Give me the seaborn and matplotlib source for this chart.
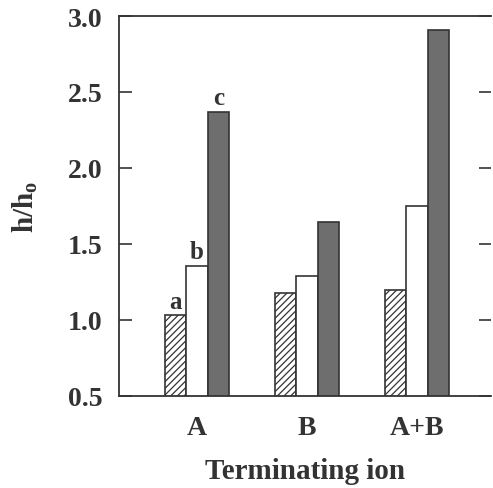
import matplotlib
matplotlib.use("Agg")
import matplotlib.pyplot as plt
import seaborn as sns
import pandas as pd

categories = ["A", "B", "A+B"]
series = ["a", "b", "c"]
values_a = [1.03, 1.18, 1.20]
values_b = [1.355, 1.29, 1.75]
values_c = [2.37, 1.645, 2.91]
yticks = [0.5, 1.0, 1.5, 2.0, 2.5, 3.0]

df = pd.DataFrame({
    "cat": categories * 3,
    "series": ["a"] * 3 + ["b"] * 3 + ["c"] * 3,
    "val": values_a + values_b + values_c,
})

sns.set_style("ticks")
plt.rcParams["font.family"] = ["Liberation Serif", "DejaVu Serif"]
plt.rcParams["font.weight"] = "bold"
plt.rcParams["mathtext.fontset"] = "custom"
plt.rcParams["mathtext.rm"] = "Liberation Serif:bold"
plt.rcParams["mathtext.it"] = "Liberation Serif:bold"
plt.rcParams["mathtext.bf"] = "Liberation Serif:bold"
plt.rcParams["hatch.linewidth"] = 0.9

fig = plt.figure(figsize=(4.93, 4.89), dpi=100)
ax = fig.add_axes([119 / 493, 92 / 489, 372 / 493, 380 / 489])

palette = {"a": "white", "b": "white", "c": "#6e6e6e"}
sns.barplot(data=df, x="cat", y="val", hue="series", order=categories,
            hue_order=series, palette=palette, width=0.59, ax=ax,
            edgecolor="#333333", linewidth=1.2, legend=False, saturation=1,
            errorbar=None)

for cont, name in zip(ax.containers, series):
    if name == "a":
        for bar in cont:
            bar.set_hatch("/////")
    ax.bar_label(cont, labels=[name, "", ""], padding=2, fontsize=18,
                 fontweight="bold", color="#333333")

ax.set_ylim(0.5, 3.0)
ax.set_xlim(-0.709, 2.673)
ax.set_yticks(yticks)
ax.set_yticklabels([f"{t:.1f}" for t in yticks], fontsize=20, fontweight="bold",
                   color="#333333")
ax.set_xticks(range(len(categories)))
ax.set_xticklabels(categories, fontsize=20, fontweight="bold", color="#333333")
ax.tick_params(axis="y", direction="in", length=9, width=1.2, right=True,
               pad=12, color="#333333")
ax.tick_params(axis="x", length=0, pad=14)
ax.set_xlabel("Terminating ion", fontsize=21, fontweight="bold",
              color="#333333", labelpad=12)
ax.set_ylabel(r"$\mathbf{h/h_o}$", fontsize=21, color="#333333", labelpad=20)
for s in ["left", "top", "bottom"]:
    ax.spines[s].set_linewidth(1.3)
    ax.spines[s].set_color("#333333")
ax.spines["right"].set_visible(False)

fig.savefig("out.png", dpi=100)
